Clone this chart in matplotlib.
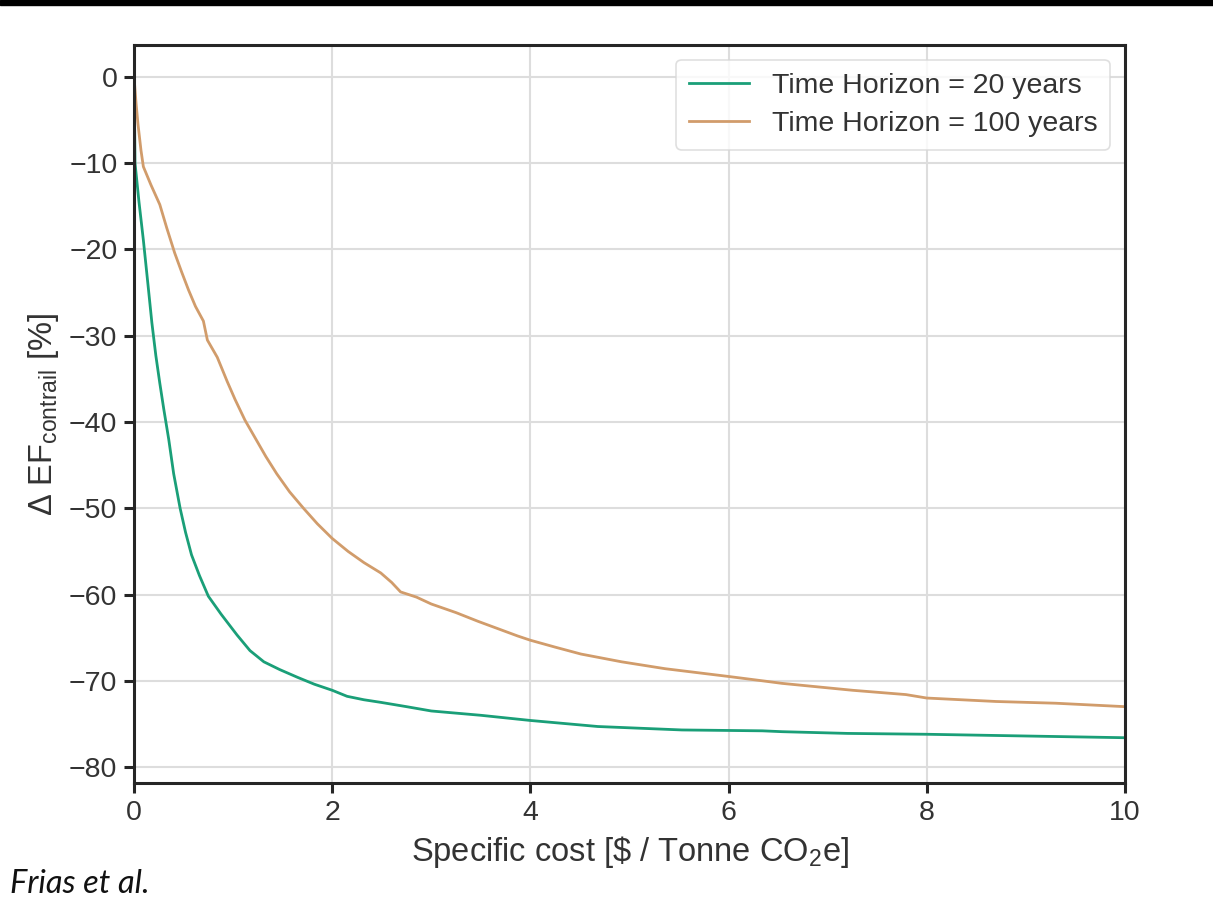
import matplotlib
matplotlib.use("Agg")
import matplotlib.pyplot as plt
from matplotlib.patches import Rectangle

cost_20 = [0.0, 0.005, 0.01, 0.05, 0.094, 0.14, 0.18, 0.22, 0.26, 0.30, 0.35, 0.40,
           0.465, 0.52, 0.58, 0.66, 0.75, 0.88, 1.04, 1.17, 1.31, 1.47, 1.65, 1.82,
           2.0, 2.15, 2.32, 2.49, 2.75, 3.0, 3.5, 4.0, 4.68, 5.53, 6.34, 6.54, 7.2,
           8.0, 9.0, 10.0]
ef_20 = [0.0, -5.0, -10.0, -14.5, -18.9, -24.0, -28.5, -32.3, -35.5, -38.5, -42.0, -46.0,
         -50.0, -52.8, -55.4, -57.8, -60.2, -62.3, -64.7, -66.5, -67.8, -68.7, -69.6, -70.4,
         -71.1, -71.8, -72.2, -72.5, -73.0, -73.5, -74.0, -74.6, -75.3, -75.7, -75.8,
         -75.9, -76.1, -76.2, -76.4, -76.6]

cost_100 = [0.0, 0.02, 0.04, 0.07, 0.094, 0.17, 0.26, 0.33, 0.41, 0.48, 0.55, 0.62,
            0.70, 0.74, 0.78, 0.84, 0.94, 1.02, 1.12, 1.22, 1.33, 1.44, 1.57, 1.71,
            1.85, 2.0, 2.16, 2.32, 2.49, 2.60, 2.69, 2.85, 3.0, 3.25, 3.47, 3.87, 4.0,
            4.25, 4.51, 4.92, 5.36, 6.0, 6.34, 6.54, 7.25, 7.79, 8.0, 8.7, 9.3, 10.0]
ef_100 = [0.0, -3.0, -5.5, -8.5, -10.4, -12.5, -14.8, -17.5, -20.4, -22.6, -24.7, -26.6,
          -28.3, -30.5, -31.3, -32.5, -35.3, -37.4, -39.8, -41.8, -44.0, -46.0, -48.1, -50.0,
          -51.8, -53.5, -55.0, -56.3, -57.5, -58.6, -59.7, -60.3, -61.1, -62.1, -63.1, -64.8,
          -65.3, -66.1, -66.9, -67.8, -68.6, -69.5, -70.0, -70.3, -71.1, -71.6, -72.0,
          -72.4, -72.6, -73.0]

labels = ["Time Horizon = 20 years", "Time Horizon = 100 years"]
colors = ["#1a9f78", "#d19c6b"]

plt.rcParams["font.family"] = ["Liberation Sans", "DejaVu Sans"]
plt.rcParams["mathtext.fontset"] = "custom"
plt.rcParams["mathtext.rm"] = "Liberation Sans"
plt.rcParams["mathtext.it"] = "Liberation Sans:italic"

fig = plt.figure(figsize=(12.13, 9.09), dpi=100)
ax = fig.add_axes([0.1105, 0.1386, 0.8169, 0.8119])

ax.plot(cost_20, ef_20, color=colors[0], lw=2.0, label=labels[0])
ax.plot(cost_100, ef_100, color=colors[1], lw=2.0, label=labels[1])

ax.set_xlim(0, 10)
ax.set_ylim(-81.85, 3.7)
ax.set_xticks([0, 2, 4, 6, 8, 10])
ax.set_yticks(range(-80, 1, 10))

ax.grid(True, color="#dddddd", lw=1.5)
ax.set_axisbelow(True)
for sp in ax.spines.values():
    sp.set_color("#262626")
    sp.set_linewidth(2.2)
ax.tick_params(axis="both", labelsize=20.5, colors="#262626", labelcolor="#333333",
               length=7, width=2.2, pad=5)

ax.set_xlabel("Specific cost [\\$ / Tonne CO$_2$e]", fontsize=23.5, color="#333333", labelpad=6)
ax.set_ylabel("$\\Delta$ EF$_{\\mathrm{contrail}}$ [%]", fontsize=23.5, color="#333333", labelpad=6)

leg = ax.legend(loc="upper right", fontsize=20.5, frameon=True, fancybox=True,
                handlelength=2.1, handletextpad=0.8, borderpad=0.45,
                labelspacing=0.45, borderaxespad=0, bbox_to_anchor=(0.985, 0.980))
leg.get_frame().set_edgecolor("#d8d8d8")
leg.get_frame().set_linewidth(1.2)
for t in leg.get_texts():
    t.set_color("#333333")

# black band at the top of the screenshot
fig.add_artist(Rectangle((0, 1 - 5 / 909), 1, 5 / 909, transform=fig.transFigure,
                         color="black", zorder=10))

fig.text(10 / 1213, 1 - 884 / 909, "Frias et al.", fontsize=23.5, style="italic",
         family=["Lato", "DejaVu Sans"], va="center", ha="left", color="#111111")

fig.savefig("out.png", dpi=100)
